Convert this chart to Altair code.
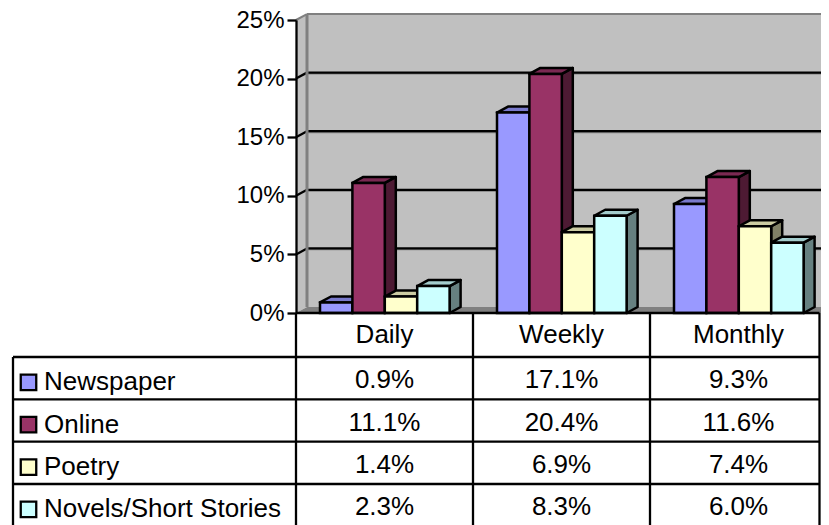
import altair as alt
import pandas as pd

categories = ["Daily", "Weekly", "Monthly"]
series = ["Newspaper", "Online", "Poetry", "Novels/Short Stories"]
newspaper = [0.9, 17.1, 9.3]
online = [11.1, 20.4, 11.6]
poetry = [1.4, 6.9, 7.4]
novels = [2.3, 8.3, 6.0]
y_ticks = [0, 5, 10, 15, 20, 25]
front_colors = ["#9999FF", "#993366", "#FFFFCC", "#CCFFFF"]
top_colors = ["#7A7ACC", "#7A2952", "#CCCCA3", "#A3CCCC"]
side_colors = ["#4D4D80", "#4D1A33", "#808066", "#668080"]

values = [newspaper, online, poetry, novels]

# geometry in scale units: x = categories, y = percent
PX = 177.0          # pixels per category
DX = 11 / PX        # 3D depth, horizontal
DY = 0.51           # 3D depth, vertical
X_END = 525 / PX    # right edge of the drawable page
X_LEFT = -283 / PX
X_RIGHT = 523.5 / PX
GAP = 24 / PX
BAR = 32.4 / PX

FONT = "Liberation Sans"
FS = 26
BW = 2.5
LW = 2.3

x_enc = lambda f="x": alt.X(f"{f}:Q", scale=alt.Scale(domain=[0, X_END], nice=False, zero=False), axis=None)
y_scale = alt.Scale(domain=[0, 25], nice=False, zero=False)
row_scale = alt.Scale(domain=[0, 1, 5], range=[293, 337, 506.3], nice=False, zero=False)
y_enc = lambda f="y": alt.Y(f"{f}:Q", scale=y_scale, axis=None)
r_enc = lambda f="r": alt.Y(f"{f}:Q", scale=row_scale, axis=None)

layers = []

# back wall, carrying the percent axis
wall = pd.DataFrame({"x": [DX], "x2": [X_END], "y": [DY], "y2": [25 + DY]})
layers.append(
    alt.Chart(wall).mark_rect(fill="#C0C0C0").encode(
        x=x_enc(), x2="x2:Q",
        y=alt.Y("y:Q", scale=y_scale, axis=alt.Axis(
            values=y_ticks, title=None, grid=False, labelExpr="datum.value + '%'",
            labelFont=FONT, labelFontSize=24, labelColor="black", labelPadding=3,
            tickSize=9, tickWidth=LW, tickColor="black",
            domainColor="black", domainWidth=LW, zindex=1)),
        y2="y2:Q")
)

# side wall
lw = pd.DataFrame({"x": [0, DX], "y": [0, DY], "y2": [25, 25 + DY]})
layers.append(alt.Chart(lw).mark_area(fill="#C0C0C0", orient="vertical").encode(x=x_enc(), y=y_enc(), y2="y2:Q"))

# floor
fl = pd.DataFrame({"y": [0, DY], "x": [0, DX], "x2": [X_END, X_END]})
layers.append(alt.Chart(fl).mark_area(fill="#808080", orient="horizontal").encode(x=x_enc(), x2="x2:Q", y=y_enc()))

# grid lines on wall (grey shadow, then black)
grid_vals = y_ticks[1:-1]
shadow = pd.DataFrame({"x": DX, "x2": X_END, "y": [v + DY - 0.1 for v in grid_vals]})
layers.append(alt.Chart(shadow).mark_rule(color="#808080", strokeWidth=1.5).encode(x=x_enc(), x2="x2:Q", y=y_enc()))
grid = pd.DataFrame({"x": DX, "x2": X_END, "y": [v + DY for v in grid_vals]})
layers.append(alt.Chart(grid).mark_rule(color="black", strokeWidth=LW).encode(x=x_enc(), x2="x2:Q", y=y_enc()))
slant = pd.DataFrame({"x": 0.0, "x2": DX, "y": grid_vals, "y2": [v + DY for v in grid_vals]})
layers.append(alt.Chart(slant).mark_rule(color="black", strokeWidth=LW).encode(x=x_enc(), x2="x2:Q", y=y_enc(), y2="y2:Q"))

# grey wall edges
edge_v = pd.DataFrame({"x": [DX], "y": [DY], "y2": [25 + DY]})
layers.append(alt.Chart(edge_v).mark_rule(color="#808080", strokeWidth=3).encode(x=x_enc(), y=y_enc(), y2="y2:Q"))
edge_h = pd.DataFrame({"x": [DX], "x2": [X_END], "y": [25 + DY]})
layers.append(alt.Chart(edge_h).mark_rule(color="#808080", strokeWidth=2).encode(x=x_enc(), x2="x2:Q", y=y_enc()))
edge_s = pd.DataFrame({"x": [0.0], "x2": [DX], "y": [25.0], "y2": [25 + DY]})
layers.append(alt.Chart(edge_s).mark_rule(color="#808080", strokeWidth=2).encode(x=x_enc(), x2="x2:Q", y=y_enc(), y2="y2:Q"))

# 3D bars: left to right, side + top + front
for s, name in enumerate(series):
    side_rows, top_rows, front_rows = [], [], []
    for c, cat in enumerate(categories):
        v = values[s][c]
        left = c + GAP + s * BAR
        right = left + BAR
        key = f"{name}-{cat}"
        side_rows += [{"k": key, "x": right, "y": 0, "y2": v},
                      {"k": key, "x": right + DX, "y": DY, "y2": v + DY}]
        top_rows += [{"k": key, "y": v, "x": left, "x2": right},
                     {"k": key, "y": v + DY, "x": left + DX, "x2": right + DX}]
        front_rows.append({"x": left, "x2": right, "y": 0, "y2": v})
    layers.append(alt.Chart(pd.DataFrame(side_rows)).mark_area(
        fill=side_colors[s], stroke="black", strokeWidth=BW, orient="vertical", strokeJoin="round"
    ).encode(x=x_enc(), y=y_enc(), y2="y2:Q", detail="k:N"))
    layers.append(alt.Chart(pd.DataFrame(top_rows)).mark_area(
        fill=top_colors[s], stroke="black", strokeWidth=BW, orient="horizontal", strokeJoin="round"
    ).encode(x=x_enc(), x2="x2:Q", y=y_enc(), detail="k:N"))
    layers.append(alt.Chart(pd.DataFrame(front_rows)).mark_rect(
        fill=front_colors[s], stroke="black", strokeWidth=BW
    ).encode(x=x_enc(), x2="x2:Q", y=y_enc(), y2="y2:Q"))

# data table: grid
h_lines = pd.DataFrame({"r": [0, 1, 2, 3, 4], "x": [0, X_LEFT, X_LEFT, X_LEFT, X_LEFT], "x2": [X_RIGHT] * 5})
layers.append(alt.Chart(h_lines).mark_rule(color="black", strokeWidth=LW).encode(x=x_enc(), x2="x2:Q", y=r_enc()))
v_lines = pd.DataFrame({"x": [0, 1, 2, X_RIGHT, X_LEFT], "r": [0, 0, 0, 0, 1], "r2": [5] * 5})
layers.append(alt.Chart(v_lines).mark_rule(color="black", strokeWidth=LW).encode(x=x_enc(), y=r_enc(), y2="r2:Q"))

# header labels
hdr = pd.DataFrame({"x": [i + 0.5 for i in range(3)], "r": [0.5] * 3, "t": categories})
text_kw = dict(font=FONT, fontSize=FS, color="black", baseline="middle")
layers.append(alt.Chart(hdr).mark_text(align="center", **text_kw).encode(x=x_enc(), y=r_enc(), text="t:N"))

# cell values
cells = pd.DataFrame([
    {"x": c + 0.5, "r": s + 1.55, "t": f"{values[s][c]:.1f}%"}
    for s in range(len(series)) for c in range(len(categories))
])
layers.append(alt.Chart(cells).mark_text(align="center", **text_kw).encode(x=x_enc(), y=r_enc(), text="t:N"))

# row labels and keys
rows = pd.DataFrame({"x": -252 / PX, "r": [i + 1.6 for i in range(4)], "t": series})
layers.append(alt.Chart(rows).mark_text(align="left", **text_kw).encode(x=x_enc(), y=r_enc(), text="t:N"))
keys = pd.DataFrame({"x": -267.5 / PX, "r": [i + 1.6 for i in range(4)], "s": series})
layers.append(alt.Chart(keys).mark_point(shape="square", size=240, filled=True, stroke="black", strokeWidth=LW, opacity=1).encode(
    x=x_enc(), y=r_enc(),
    fill=alt.Fill("s:N", scale=alt.Scale(domain=series, range=front_colors), legend=None)))

chart = alt.layer(*layers).resolve_scale(y="independent").properties(
    width=525, height=293,
    padding={"left": 288, "top": 12, "right": 0, "bottom": 212},
    autosize=alt.AutoSizeParams(type="none"),
    background="white",
).configure_view(stroke=None)

chart.save("out.html", embed_options={"renderer": "svg", "actions": False})
